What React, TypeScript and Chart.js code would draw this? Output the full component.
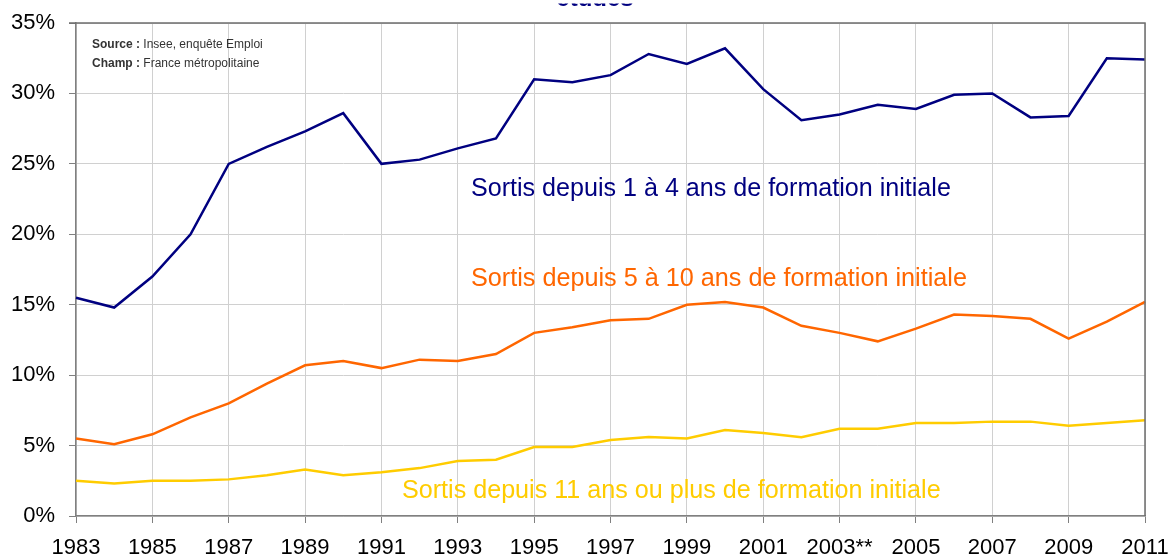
import React, { useEffect, useRef } from "react";
import { Chart, registerables } from "chart.js";

Chart.register(...registerables);

const years = [
  "1983", "1984", "1985", "1986", "1987", "1988", "1989", "1990", "1991", "1992",
  "1993", "1994", "1995", "1996", "1997", "1998", "1999", "2000", "2001", "2002",
  "2003**", "2004", "2005", "2006", "2007", "2008", "2009", "2010", "2011",
];

const sortis1a4 = [
  15.5, 14.8, 17.0, 20.0, 25.0, 26.2, 27.3, 28.6, 25.0, 25.3,
  26.1, 26.8, 31.0, 30.8, 31.3, 32.8, 32.1, 33.2, 30.3, 28.1,
  28.5, 29.2, 28.9, 29.9, 30.0, 28.3, 28.4, 32.5, 32.4,
];

const sortis5a10 = [
  5.5, 5.1, 5.8, 7.0, 8.0, 9.4, 10.7, 11.0, 10.5, 11.1,
  11.0, 11.5, 13.0, 13.4, 13.9, 14.0, 15.0, 15.2, 14.8, 13.5,
  13.0, 12.4, 13.3, 14.3, 14.2, 14.0, 12.6, 13.8, 15.2,
];

const sortis11plus = [
  2.5, 2.3, 2.5, 2.5, 2.6, 2.9, 3.3, 2.9, 3.1, 3.4,
  3.9, 4.0, 4.9, 4.9, 5.4, 5.6, 5.5, 6.1, 5.9, 5.6,
  6.2, 6.2, 6.6, 6.6, 6.7, 6.7, 6.4, 6.6, 6.8,
];

const seriesNames = [
  "Sortis depuis 1 à 4 ans de formation initiale",
  "Sortis depuis 5 à 10 ans de formation initiale",
  "Sortis depuis 11 ans ou plus de formation initiale",
];

const yTicks = [0, 5, 10, 15, 20, 25, 30, 35];

const NAVY = "#000080";
const ORANGE = "#FF6600";
const YELLOW = "#FFCC00";
const FONT = "'Liberation Sans', Arial, sans-serif";

const overlayPlugin = {
  id: "overlay",
  afterDraw(chart: any) {
    const ctx = chart.ctx as CanvasRenderingContext2D;
    const { left, right, top, bottom } = chart.chartArea;
    ctx.save();
    ctx.strokeStyle = "#6e6e6e";
    ctx.lineWidth = 1.5;
    ctx.beginPath();
    ctx.moveTo(left - 7, top);
    ctx.lineTo(right, top);
    ctx.lineTo(right, bottom);
    ctx.stroke();

    ctx.save();
    ctx.beginPath();
    ctx.rect(0, 3.5, chart.width, 10);
    ctx.clip();
    ctx.fillStyle = NAVY;
    ctx.font = `bold 24px ${FONT}`;
    ctx.textAlign = "center";
    ctx.textBaseline = "alphabetic";
    ctx.fillText("études", 595, 6);
    ctx.restore();

    ctx.textAlign = "left";
    ctx.textBaseline = "alphabetic";
    ctx.fillStyle = "#333333";
    const drawPair = (b: string, n: string, x: number, y: number) => {
      ctx.font = `bold 12px ${FONT}`;
      ctx.fillText(b, x, y);
      const w = ctx.measureText(b).width;
      ctx.font = `12px ${FONT}`;
      ctx.fillText(n, x + w, y);
    };
    drawPair("Source : ", "Insee, enquête Emploi", 92, 48);
    drawPair("Champ : ", "France métropolitaine", 92, 67);

    const fitText = (t: string, color: string, x: number, y: number, width: number) => {
      ctx.font = `22px ${FONT}`;
      const m = ctx.measureText(t).width;
      const size = 22 * (width / m);
      ctx.font = `${size.toFixed(2)}px ${FONT}`;
      ctx.fillStyle = color;
      ctx.fillText(t, x, y);
    };
    fitText(seriesNames[0], NAVY, 471, 196, 480);
    fitText(seriesNames[1], ORANGE, 471, 286, 496);
    fitText(seriesNames[2], YELLOW, 402, 498, 539);
    ctx.restore();
  },
};

export default function App() {
  const ref = useRef<HTMLCanvasElement>(null);

  useEffect(() => {
    document.body.style.margin = "0";
    const canvas = ref.current;
    if (!canvas) return;
    const gridColor = (c: any) =>
      c.index % 2 === 0 ? "#d0d0d0" : "rgba(0,0,0,0)";
    const tickColor = (c: any) =>
      c.index % 2 === 0 ? "#808080" : "rgba(0,0,0,0)";
    const chart = new Chart(canvas, {
      type: "line",
      data: {
        labels: years,
        datasets: [
          { label: seriesNames[0], data: sortis1a4, borderColor: NAVY },
          { label: seriesNames[1], data: sortis5a10, borderColor: ORANGE },
          { label: seriesNames[2], data: sortis11plus, borderColor: YELLOW },
        ].map((d) => ({
          ...d,
          borderWidth: 2.5,
          pointRadius: 0,
          fill: false,
          tension: 0,
        })),
      },
      options: {
        responsive: false,
        animation: false,
        layout: { padding: { top: 23, right: 26, left: 0, bottom: 0 } },
        plugins: {
          legend: { display: false },
          tooltip: { enabled: false },
          title: { display: false },
        },
        scales: {
          x: {
            type: "category",
            offset: false,
            afterFit: (s: any) => {
              s.height = 42;
              s.paddingLeft = 0;
              s.paddingRight = 0;
            },
            grid: {
              color: gridColor,
              tickColor: tickColor,
              tickLength: 7,
              lineWidth: 1,
            },
            border: { color: "#808080", width: 1.5 },
            ticks: {
              autoSkip: false,
              maxRotation: 0,
              padding: 12,
              color: "#000",
              font: { family: FONT, size: 22 },
              callback: (_v: any, i: number) => (i % 2 === 0 ? years[i] : ""),
            },
          },
          y: {
            min: yTicks[0],
            max: yTicks[yTicks.length - 1],
            afterFit: (s: any) => {
              s.width = 76;
              s.paddingTop = 0;
              s.paddingBottom = 0;
            },
            afterBuildTicks: (s: any) => {
              s.ticks = yTicks.map((v) => ({ value: v }));
            },
            grid: {
              color: "#d0d0d0",
              tickColor: "#808080",
              tickLength: 7,
            },
            border: { color: "#808080", width: 1.5 },
            ticks: {
              padding: 14,
              color: "#000",
              font: { family: FONT, size: 22 },
              callback: (v: any) => `${v}%`,
            },
          },
        },
      },
      plugins: [overlayPlugin],
    });
    return () => chart.destroy();
  }, []);

  return (
    <div style={{ width: 1171, height: 558, position: "relative", background: "#fff" }}>
      <canvas ref={ref} width={1171} height={558} style={{ display: "block" }} />
    </div>
  );
}
